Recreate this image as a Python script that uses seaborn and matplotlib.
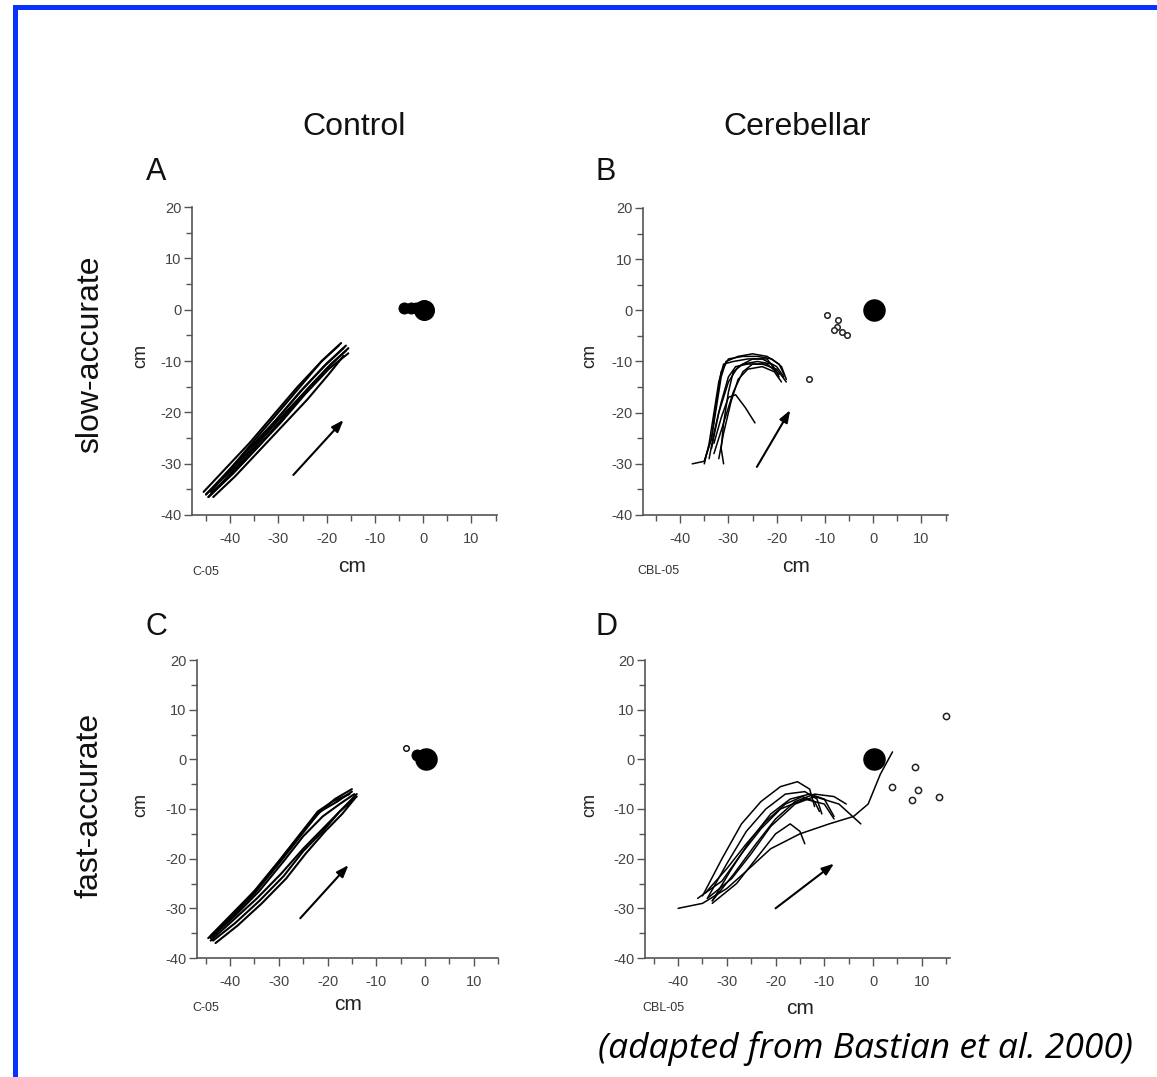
import numpy as np
import pandas as pd
import matplotlib
matplotlib.use("Agg")
import matplotlib.pyplot as plt
from matplotlib.patches import Rectangle
import seaborn as sns

# ---------------- data (cm) ----------------
# Panel A: control, slow-accurate
A_trace_x = [
    [-45, -40, -35, -30, -25, -20, -16],
    [-44.5, -40, -35, -30, -25, -20, -15.5],
    [-44, -39, -34, -29, -24, -19, -16],
    [-45.5, -41, -36, -31, -26, -21, -17],
    [-43.5, -39, -34, -29, -24, -19.5, -16.5],
    [-44, -39.5, -35, -30, -25.5, -21, -17.5],
    [-45, -40.5, -35.5, -30.5, -25.5, -20.5, -16.5],
    [-44.5, -39.5, -34.5, -29.5, -24.5, -19.5, -15.5],
]
A_trace_y = [
    [-36, -31.5, -26.5, -21, -15.5, -10.5, -7],
    [-36.5, -32, -27, -21.5, -16.5, -11.5, -7.5],
    [-36, -31.5, -26.5, -21, -15.5, -10.5, -8],
    [-35.5, -31, -26, -20.5, -15, -10, -6.5],
    [-36.5, -32.5, -27.5, -22.5, -17.5, -12.5, -9],
    [-35.5, -30.5, -25.5, -20, -15, -10, -7],
    [-36, -31.5, -26.5, -21.5, -16, -11, -7.5],
    [-36.5, -32, -27, -22, -16.5, -11.5, -8.5],
]
A_end_x = [-4.0, -2.5, -1.5]
A_end_y = [0.4, 0.4, 0.3]
A_arrow = [(-26.9, -32.2), (-16.5, -21.5)]

# Panel B: cerebellar, slow-accurate
B_trace_x = [
    [-37.5, -35, -33.5, -32.5, -31.5, -30, -27, -24, -21, -19, -18],
    [-35, -34, -33, -32, -31, -29, -26, -23, -20, -18.5],
    [-31, -31.5, -31, -30, -29, -27, -24, -21, -19.5],
    [-34, -33, -31.5, -30, -28.5, -26, -23, -20, -18],
    [-33, -31, -29, -27, -25, -22, -19.5],
    [-32, -31, -29.5, -28, -26, -23, -20.5, -19],
    [-33, -31.5, -30, -28.5, -26.5, -24.5],
    [-33.5, -32, -30, -28, -25, -22, -20],
    [-35, -33.5, -32.5, -31.5, -30.5, -28, -25, -22, -19.5, -18.5],
]
B_trace_y = [
    [-30, -29.5, -25, -18, -12, -9.5, -9, -9, -9.5, -11, -13.5],
    [-30, -26, -20, -14, -10.5, -10, -9.5, -9.5, -11, -13],
    [-30, -27, -22, -16, -12, -10.5, -10, -10.5, -13],
    [-29, -24, -18, -13, -11, -10.5, -10.5, -11.5, -14],
    [-28, -22, -16, -12, -10.5, -10.5, -12.5],
    [-29, -24, -18, -13.5, -11.5, -11, -12, -14],
    [-26, -21, -17, -16.5, -19, -22],
    [-27, -20, -14, -11, -9.5, -9.5, -12],
    [-29.5, -25, -19, -13, -10, -9, -8.5, -9, -10.5, -12.5],
]
B_end_x = [-9.6, -7.2, -7.5, -6.5, -8.2, -5.5, -13.4]
B_end_y = [-0.9, -1.9, -3.2, -4.2, -3.9, -4.9, -13.5]
B_arrow = [(-24.1, -30.6), (-17.2, -19.5)]

# Panel C: control, fast-accurate
C_trace_x = [
    [-44, -40, -35, -30, -26, -22, -19, -15.5],
    [-43.5, -39.5, -34.5, -29.5, -25.5, -21.5, -18, -15],
    [-44, -39, -34, -29, -25, -21, -17.5, -14.5],
    [-43.5, -39, -34, -29, -25, -21, -17.5, -14],
    [-43, -38.5, -33.5, -28.5, -24.5, -20.5, -17, -14.5],
    [-44, -39.5, -34.5, -29.5, -25, -21, -17, -14],
    [-44.5, -40, -35, -30, -26, -22, -18.5, -15],
]
C_trace_y = [
    [-35.5, -31.5, -26.5, -20.5, -15.5, -10.5, -8.5, -7],
    [-35.5, -31.5, -26, -20, -15, -10.5, -8.5, -6.5],
    [-36, -31.5, -26.5, -20.5, -15.5, -11.5, -9, -7],
    [-36.5, -33, -28.5, -23.5, -18.5, -14.5, -10.5, -7.5],
    [-37, -33.5, -29, -24, -19, -14.5, -11, -8],
    [-36.5, -32.5, -28, -23, -18, -14, -10, -7],
    [-36, -32, -27, -21, -16, -11, -8, -6],
]
C_end_x = [-1.7, -1.0]
C_end_y = [0.8, 0.5]
C_open_x = [-3.9]
C_open_y = [2.2]
C_arrow = [(-25.6, -32.0), (-15.7, -21.3)]

# Panel D: cerebellar, fast-accurate
D_trace_x = [
    [-35, -31, -27, -23, -19, -15.5, -13, -12],
    [-34, -30, -26, -22, -18, -14, -11.5, -10.5],
    [-33, -29, -25, -21, -17, -13, -10, -8],
    [-33, -28.5, -24, -20, -16, -12, -8, -5.5],
    [-34, -29, -25, -21, -16, -12, -7, -2.5],
    [-33, -28, -24, -20, -17, -15, -14],
    [-40, -35, -30, -26, -21, -15, -9, -4, -1, 1.5, 4],
    [-36, -31, -27, -23, -19, -14, -10, -8],
    [-34.5, -30, -26, -22, -18, -14.5, -12, -11],
]
D_trace_y = [
    [-27.5, -20, -13, -8.5, -5.5, -4.5, -6, -9.5],
    [-28, -21, -14.5, -10, -7, -6.5, -8, -11],
    [-28.5, -22, -16, -11, -8, -7, -8, -11.5],
    [-28.5, -23, -17, -12, -8.5, -7, -7.5, -9],
    [-28, -24, -19, -13.5, -9, -7.5, -9, -13],
    [-29, -25, -20, -15, -13, -14.5, -17],
    [-30, -29, -26, -22.5, -18, -15, -13, -11.5, -9, -3, 1.5],
    [-28, -24.5, -19, -14, -10, -8, -9, -12],
    [-27, -22, -17, -12.5, -9, -7.5, -8.5, -10.5],
]
D_end_x = [8.6, 3.8, 9.3, 8.0, 13.5, 15.0]
D_end_y = [-1.5, -5.5, -6.2, -8.2, -7.5, 8.8]
D_arrow = [(-20.0, -30.0), (-8.0, -21.0)]

target_x = [0.2]
target_y = [0.0]

col_titles = ["Control", "Cerebellar"]
row_titles = ["slow-accurate", "fast-accurate"]
panel_letters = ["A", "B", "C", "D"]
subject_ids = ["C-05", "CBL-05", "C-05", "CBL-05"]
major_ticks_x = [-40, -30, -20, -10, 0, 10]
major_ticks_y = [-40, -30, -20, -10, 0, 10, 20]
caption = "(adapted from Bastian et al. 2000)"

# ---------------- styling ----------------
sns.set_theme(style="ticks")
plt.rcParams["font.family"] = ["Liberation Sans", "DejaVu Sans"]
plt.rcParams["axes.unicode_minus"] = False

W, H = 1157, 1077
fig = plt.figure(figsize=(W / 100, H / 100), dpi=100)
fig.patch.set_facecolor("white")

def px(x, y):
    return x / W, 1 - y / H

def rect(l, t, r, b):
    return [l / W, 1 - b / H, (r - l) / W, (b - t) / H]

panels = [
    dict(pos=rect(192, 207, 497, 515), xlim=(-47.9, 15.3),
         tx=A_trace_x, ty=A_trace_y, ex=A_end_x, ey=A_end_y, arrow=A_arrow,
         dense=True, end_size=8, end_fill=True, tsize=14),
    dict(pos=rect(643, 208, 948, 515), xlim=(-47.7, 15.5),
         tx=B_trace_x, ty=B_trace_y, ex=B_end_x, ey=B_end_y, arrow=B_arrow,
         dense=False, end_size=4, end_fill=False, tsize=15),
    dict(pos=rect(197, 660, 498, 958), xlim=(-46.8, 15.0),
         tx=C_trace_x, ty=C_trace_y, ex=C_end_x, ey=C_end_y, arrow=C_arrow,
         dense=True, end_size=8, end_fill=True, tsize=15),
    dict(pos=rect(645, 660, 950, 958), xlim=(-46.8, 15.8),
         tx=D_trace_x, ty=D_trace_y, ex=D_end_x, ey=D_end_y, arrow=D_arrow,
         dense=False, end_size=4.5, end_fill=False, tsize=15),
]

axis_col = "#555555"
tick_col = "#444444"

for i, p in enumerate(panels):
    ax = fig.add_axes(p["pos"])
    rows = []
    for k, (xs, ys) in enumerate(zip(p["tx"], p["ty"])):
        for j, (xv, yv) in enumerate(zip(xs, ys)):
            rows.append(dict(trace=k, order=j, x=xv, y=yv))
    df = pd.DataFrame(rows)
    lw = 1.5 if p["dense"] else 1.1
    sns.lineplot(data=df, x="x", y="y", units="trace", estimator=None,
                 sort=False, color="black", lw=lw, ax=ax, legend=False)
    # end points
    if p["end_fill"]:
        sns.scatterplot(x=p["ex"], y=p["ey"], s=p["end_size"] ** 2, color="black",
                        edgecolor="black", ax=ax, legend=False, zorder=4)
    else:
        sns.scatterplot(x=p["ex"], y=p["ey"], s=p["end_size"] ** 2, facecolor="white",
                        edgecolor="#222222", linewidth=1.1, ax=ax, legend=False, zorder=4)
    if i == 2:
        sns.scatterplot(x=C_open_x, y=C_open_y, s=16, facecolor="white",
                        edgecolor="black", linewidth=1.0, ax=ax, legend=False, zorder=4)
    # target
    sns.scatterplot(x=target_x, y=target_y, s=p["tsize"] ** 2, color="black",
                    edgecolor="black", ax=ax, legend=False, zorder=5)
    # direction arrow
    (x0, y0), (x1, y1) = p["arrow"]
    ax.annotate("", xy=(x1, y1), xytext=(x0, y0),
                arrowprops=dict(arrowstyle="-|>,head_length=0.6,head_width=0.22",
                                color="black", lw=1.5, shrinkA=0, shrinkB=0))

    ax.set_xlim(*p["xlim"])
    ax.set_ylim(-40, 20)
    ax.set_xticks(major_ticks_x)
    ax.set_xticklabels([str(v) for v in major_ticks_x])
    ax.set_yticks(major_ticks_y)
    ax.set_yticklabels([str(v) for v in major_ticks_y])
    ax.set_xticks([-45, -35, -25, -15, -5, 5, 15], minor=True)
    ax.set_yticks([-35, -25, -15, -5, 5, 15], minor=True)
    ax.tick_params(which="major", length=5.5, width=1.0, color=axis_col,
                   labelsize=10.5, labelcolor=tick_col)
    ax.tick_params(axis="x", which="major", pad=7)
    ax.tick_params(axis="y", which="major", pad=2)
    ax.tick_params(which="minor", length=4, width=1.0, color=axis_col)
    for s in ["top", "right"]:
        ax.spines[s].set_visible(False)
    for s in ["left", "bottom"]:
        ax.spines[s].set_color(axis_col)
        ax.spines[s].set_linewidth(1.2)
    ax.set_xlabel("")
    ax.set_ylabel("")
    ax.set_facecolor("none")
    ax.grid(False)

# axis labels and annotations (figure pixel positions)
cm_x_pos = [(352, 566), (796, 567), (348, 1004), (800, 1008)]
cm_y_pos = [(141, 356), (590, 356), (141, 805), (590, 805)]
id_pos = [(206, 572), (658, 571), (206, 1008), (663, 1008)]
letter_pos = [(156, 172), (606, 172), (156, 627), (606, 627)]
for i in range(4):
    fig.text(*px(*cm_x_pos[i]), "cm", fontsize=15, color="#222222",
             ha="center", va="center")
    fig.text(*px(*cm_y_pos[i]), "cm", fontsize=13, color="#222222",
             ha="center", va="center", rotation=90)
    fig.text(*px(*id_pos[i]), subject_ids[i], fontsize=9, color="#333333",
             ha="center", va="center")
    fig.text(*px(*letter_pos[i]), panel_letters[i], fontsize=22, color="#111111",
             ha="center", va="center")

fig.text(*px(354, 127), col_titles[0], fontsize=23, color="#111111", ha="center", va="center")
fig.text(*px(797, 127), col_titles[1], fontsize=23, color="#111111", ha="center", va="center")
fig.text(*px(90, 354), row_titles[0], fontsize=23, color="#111111", ha="center",
         va="center", rotation=90)
fig.text(*px(90, 805), row_titles[1], fontsize=23, color="#111111", ha="center",
         va="center", rotation=90)

fig.text(*px(1133, 1049), caption, fontsize=25.5, style="italic",
         family=["Open Sans", "Lato", "DejaVu Sans"], color="black",
         ha="right", va="center")

# blue frame (top and left edges visible)
blue = "#0a32ff"
fig.add_artist(Rectangle(px(13, 1077), 4.5 / W, (1077 - 5) / H, transform=fig.transFigure,
                         facecolor=blue, edgecolor="none"))
fig.add_artist(Rectangle(px(13, 10), (W - 13) / W, 5 / H, transform=fig.transFigure,
                         facecolor=blue, edgecolor="none"))

fig.savefig("out.png", dpi=100, facecolor="white")
